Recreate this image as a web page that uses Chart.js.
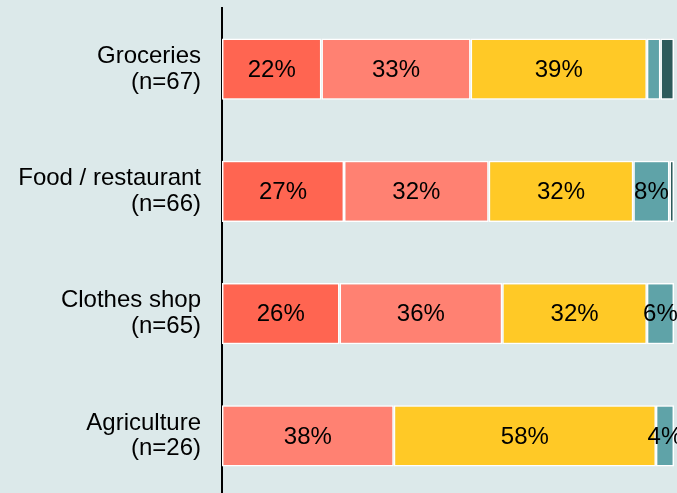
<!DOCTYPE html>
<html>
<head>
<meta charset="utf-8">
<script src="https://cdn.jsdelivr.net/npm/chart.js@4"></script>
<style>
  html, body { margin: 0; padding: 0; background: #DCE9EA; overflow: hidden; }
  #wrap { width: 677px; height: 497px; position: relative; }
</style>
</head>
<body>
<div id="wrap"><canvas id="chart"></canvas></div>
<script>
(function() {
  const categories = [
    ['Groceries', '(n=67)'],
    ['Food / restaurant', '(n=66)'],
    ['Clothes shop', '(n=65)'],
    ['Agriculture', '(n=26)']
  ];
  const seriesA = [22, 27, 26, 0];
  const seriesB = [33, 32, 36, 38];
  const seriesC = [39, 32, 32, 58];
  const seriesD = [3, 8, 6, 4];
  const seriesE = [3, 1, 0, 0];

  const colors = ['#FF6551', '#FF8172', '#FFC926', '#5FA3A8', '#2D5B5B'];
  const font = "'Liberation Sans', Arial, sans-serif";

  // draw the percentage inside each segment (small ones are skipped)
  const segmentLabels = {
    id: 'segmentLabels',
    afterDatasetsDraw(chart) {
      const ctx = chart.ctx;
      ctx.save();
      ctx.font = '24px ' + font;
      ctx.fillStyle = '#000';
      ctx.textAlign = 'center';
      ctx.textBaseline = 'middle';
      chart.data.datasets.forEach((ds, i) => {
        chart.getDatasetMeta(i).data.forEach((bar, j) => {
          const v = ds.data[j];
          if (v < 4) return;
          const p = bar.getCenterPoint();
          ctx.fillText(v + '%', p.x, p.y + 1);
        });
      });
      ctx.restore();
    }
  };

  const all = [seriesA, seriesB, seriesC, seriesD, seriesE];

  new Chart(
    document.getElementById('chart'),
    {
      type: 'bar',
      plugins: [segmentLabels],
      data: {
        labels: categories,
        datasets: all.map((s, i) => ({
          data: s,
          backgroundColor: colors[i],
          borderColor: '#ffffff',
          borderWidth: 1.5,
          borderSkipped: false,
          barPercentage: 0.5,
          categoryPercentage: 1
        }))
      },
      options: {
        responsive: true,
        maintainAspectRatio: false,
        animation: false,
        indexAxis: 'y',
        layout: {
          padding: { top: 8, right: 3, bottom: 0, left: 0 }
        },
        plugins: {
          legend: { display: false },
          tooltip: { enabled: false }
        },
        scales: {
          x: {
            stacked: true,
            min: 0,
            max: 100,
            display: false
          },
          y: {
            stacked: true,
            grid: { display: false, drawTicks: false },
            border: { display: true, color: '#000', width: 2 },
            ticks: {
              padding: 21,
              color: '#000',
              font: { family: font, size: 24, lineHeight: 1.08 }
            },
            afterFit: scale => {
              scale.width = 222;
              scale.paddingTop = 0;
              scale.paddingBottom = 0;
            }
          }
        }
      }
    }
  );
})();
</script>
</body>
</html>
